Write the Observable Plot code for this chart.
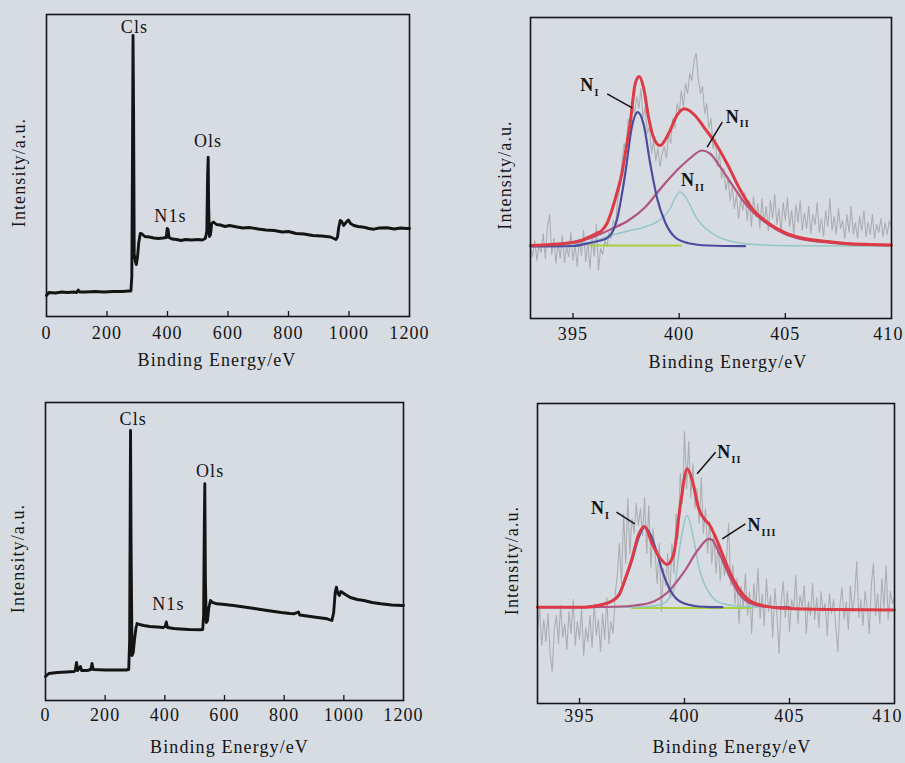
<!DOCTYPE html>
<html><head><meta charset="utf-8">
<script src="https://cdn.jsdelivr.net/npm/d3@7"></script>
<script src="https://cdn.jsdelivr.net/npm/@observablehq/plot@0.6"></script>
<style>
html,body{margin:0;padding:0;background:#d7dce3;}
#wrap{position:relative;width:905px;height:763px;overflow:hidden;background:#d7dce3;}
</style></head><body><div id="wrap"></div>
<script>
// ---------- DATA ----------
const surveyTicks = [0, 200, 400, 600, 800, 1000, 1200];
const surveyTickMarks = [200, 400, 600, 800, 1000];
const nTicks = [395, 400, 405];
const nLastTick = [410];
const nTickMarks = [395, 400, 405];
const xLabel = "Binding Energy/eV";
const yLabel = "Intensity/a.u.";

// survey spectrum, sample 1 (top)  [binding energy, intensity]
const survey1 = [[0,21],[8,24],[30,23.5],[50,24.5],[70,24],[90,24.5],[100,24],[105,26.5],[110,24.5],[130,24.5],[160,25],[190,24.5],[220,25],[250,25],[270,25.5],[279,25.5],[282,40],[284,150],[286,281],[288,200],[290,62],[294,55],[297,52],[301,60],[305,74],[310,83],[316,82.5],[325,80],[340,79.5],[355,78.5],[370,78],[385,78.5],[396,79],[399,88],[402,87],[405,79],[415,77.5],[430,77],[445,76],[460,77],[480,76.5],[500,77],[515,76.5],[525,78],[530,85],[532.5,140],[534.5,159.3],[536,110],[538.5,80],[542,82],[546,93],[552,94.5],[562,92],[575,91.5],[590,90],[605,91],[630,89.5],[650,88.5],[670,89],[700,87.5],[725,86.5],[752,86],[780,84.5],[800,85],[825,83],[851,82.5],[880,81],[910,80.5],[939,79.5],[950,78],[957,77],[962,79.5],[966,89],[971,96],[976,95],[982,91],[990,94],[998,96.5],[1005,93],[1016,91],[1030,90],[1049,89.3],[1065,88],[1082,87.3],[1100,88.5],[1126,88.7],[1150,87.5],[1170,88.5],[1192,88],[1200,88]];
const survey1Labels = [{e:291, v:289, t:"Cls"}, {e:534, v:175, t:"Ols"}, {e:410, v:100, t:"N1s"}];

// survey spectrum, sample 2 (bottom)
const survey2 = [[0,24],[11,27],[40,28],[70,28.5],[95,29],[100,30],[104,38],[108,30],[117,34],[121,30],[140,30],[152,31],[156,37],[160,31],[200,30.5],[240,30.5],[270,30.5],[279,31],[282,60],[284,200],[285,270],[287,150],[290,45],[294,48],[298,60],[303,72],[307,77],[315,76],[329,75],[350,74],[374,73.5],[395,73],[401,74],[405,78.5],[409,73],[430,72],[452,71.5],[480,71],[519,70.7],[527,71],[530,85],[532.5,180],[534,216.7],[536,120],[539,78],[543,80],[547,92],[553,100],[560,98],[575,96.7],[600,96],[630,95],[654,94],[700,92],[743,90],[790,88],[820,87],[832,86.7],[848,88.5],[852,85.5],[900,83.5],[944,81.7],[960,80],[966,88],[971,108],[975,113.3],[980,107],[985,105],[990,109],[994,108.3],[1005,106],[1022,103],[1045,101],[1067,100],[1095,98],[1124,96.7],[1160,95.5],[1196,95],[1200,95]];
const survey2Labels = [{e:294, v:281, t:"Cls"}, {e:552, v:229, t:"Ols"}, {e:412, v:96, t:"N1s"}];

// N1s high resolution, sample 1 (top right)
const n1Raw = [[393.0,70],[393.1,62],[393.2,78],[393.3,58],[393.4,74],[393.5,66],[393.6,85],[393.7,60],[393.8,92],[393.9,104],[394.0,64],[394.1,80],[394.2,55],[394.3,76],[394.4,60],[394.5,83],[394.6,56],[394.7,72],[394.8,62],[394.9,86],[395.0,58],[395.1,74],[395.2,52],[395.3,80],[395.4,63],[395.5,88],[395.6,57],[395.7,75],[395.8,50],[395.9,82],[396.0,62],[396.1,94],[396.2,48],[396.3,70],[396.4,64],[396.5,78],[396.6,72],[396.7,86],[396.8,80],[396.9,98],[397.0,92],[397.1,118],[397.2,130],[397.3,155],[397.4,175],[397.5,168],[397.6,200],[397.7,188],[397.8,215],[397.9,205],[398.0,222],[398.1,210],[398.2,230],[398.3,200],[398.4,212],[398.5,185],[398.6,192],[398.7,165],[398.8,178],[398.9,158],[399.0,170],[399.1,152],[399.2,165],[399.3,172],[399.4,160],[399.5,185],[399.6,175],[399.7,200],[399.8,190],[399.9,215],[400.0,205],[400.1,228],[400.2,212],[400.3,235],[400.4,225],[400.5,245],[400.6,238],[400.7,258],[400.8,265],[400.9,240],[401.0,225],[401.1,232],[401.2,205],[401.3,215],[401.4,190],[401.5,200],[401.6,170],[401.7,180],[401.8,152],[401.9,165],[402.0,140],[402.1,150],[402.2,128],[402.3,142],[402.4,118],[402.5,132],[402.6,110],[402.7,124],[402.8,100],[402.9,120],[403.0,108],[403.1,126],[403.2,98],[403.3,118],[403.4,92],[403.5,122],[403.6,102],[403.7,115],[403.8,90],[403.9,120],[404.0,96],[404.1,112],[404.2,88],[404.3,118],[404.4,100],[404.5,124],[404.6,94],[404.7,110],[404.8,86],[404.9,116],[405.0,98],[405.1,121],[405.2,92],[405.3,108],[405.4,84],[405.5,114],[405.6,96],[405.7,118],[405.8,88],[405.9,106],[406.0,90],[406.1,112],[406.2,85],[406.3,104],[406.4,94],[406.5,116],[406.6,86],[406.7,100],[406.8,82],[406.9,108],[407.0,92],[407.1,120],[407.2,88],[407.3,102],[407.4,84],[407.5,110],[407.6,90],[407.7,98],[407.8,80],[407.9,104],[408.0,86],[408.1,112],[408.2,84],[408.3,96],[408.4,80],[408.5,102],[408.6,88],[408.7,108],[408.8,82],[408.9,96],[409.0,84],[409.1,104],[409.2,80],[409.3,94],[409.4,86],[409.5,100],[409.6,82],[409.7,96],[409.8,84],[409.9,98],[410.0,90]];
const n1Envelope = [[393.0,73],[394.0,74],[394.8,75.5],[395.4,78],[395.73,81.3],[396.1,85],[396.36,88],[396.6,95],[396.83,108],[397.05,124],[397.3,144.7],[397.5,170],[397.69,194.7],[397.93,234.7],[398.12,242],[398.32,231.3],[398.56,201.3],[398.79,181.3],[399.1,173],[399.5,184.7],[399.89,203],[400.25,209.7],[400.75,203],[401.22,189.7],[401.63,178],[402.26,154.7],[402.89,128],[403.51,108],[404.14,96.3],[404.93,86.3],[405.71,80.7],[406.97,77],[408.07,74.7],[409.0,74],[410.0,73.5]];
const n1PeakI = [[393.0,72],[395.0,72.5],[395.95,76.3],[396.3,78],[396.67,81.3],[397.06,98],[397.46,144.7],[397.77,191.3],[398.05,206.3],[398.32,194.7],[398.64,154.7],[398.95,121.3],[399.34,96.3],[399.81,81.3],[400.44,75.3],[401.38,73],[403.1,72.3]];
const n1PeakIIbroad = [[393.0,72.5],[394.5,75],[395.73,79.7],[396.83,89.7],[397.61,98],[398.4,111.3],[399.18,131.3],[399.97,149.7],[400.5,160],[401.08,168],[401.47,164.7],[401.94,151.3],[402.57,131.3],[403.0,118],[403.5,106],[404.14,95],[404.93,85],[405.71,79.5],[406.97,76],[408.07,74],[410.0,73]];
const n1PeakIInarrow = [[393.0,72.5],[394.5,73.5],[395.3,75],[396.0,77],[396.6,82],[397.5,87],[398.3,91],[398.9,96],[399.34,103],[399.6,111],[399.8,120],[400.03,126.5],[400.25,123],[400.5,114],[400.75,103],[401.1,93],[401.5,86],[401.9,81],[402.5,77],[403.0,75],[404.0,73.5],[405.0,72.8],[410.0,72.3]];
const n1Baseline = [[395.8,73],[400.1,73]];
const n1Labels = [{e:395.68, v:233, sub:"I"}, {e:402.53, v:201.3, sub:"II"}, {e:400.42, v:138, sub:"II"}];
const n1Leaders = [{e1:396.61, v1:224.7, e2:397.79, v2:210.7}, {e1:402.03, v1:196.3, e2:401.32, v2:171.3}];

// N1s high resolution, sample 2 (bottom right)
const n2Raw = [[393.0,70],[393.1,96],[393.2,58],[393.3,84],[393.4,62],[393.5,90],[393.6,50],[393.7,32],[393.8,74],[393.9,88],[394.0,60],[394.1,98],[394.2,66],[394.3,80],[394.4,54],[394.5,92],[394.6,70],[394.7,104],[394.8,58],[394.9,82],[395.0,64],[395.1,94],[395.2,48],[395.3,76],[395.4,62],[395.5,88],[395.6,56],[395.7,100],[395.8,68],[395.9,84],[396.0,52],[396.1,90],[396.2,64],[396.3,106],[396.4,60],[396.5,82],[396.6,70],[396.7,110],[396.8,128],[396.9,160],[397.0,120],[397.1,190],[397.2,140],[397.3,205],[397.4,150],[397.5,185],[397.6,170],[397.7,200],[397.8,178],[397.9,195],[398.0,168],[398.1,206],[398.2,150],[398.3,198],[398.4,136],[398.5,175],[398.6,150],[398.7,120],[398.8,160],[398.9,92],[399.0,135],[399.1,118],[399.2,150],[399.3,105],[399.4,160],[399.5,130],[399.6,190],[399.7,165],[399.8,230],[399.9,200],[400.0,272],[400.1,215],[400.2,262],[400.3,205],[400.4,240],[400.5,195],[400.6,215],[400.7,180],[400.8,226],[400.9,170],[401.0,195],[401.1,150],[401.2,182],[401.3,140],[401.4,170],[401.5,130],[401.6,160],[401.7,123],[401.8,150],[401.9,128],[402.0,145],[402.1,180],[402.2,118],[402.3,138],[402.4,100],[402.5,125],[402.6,80],[402.7,118],[402.8,95],[402.9,130],[403.0,88],[403.1,112],[403.2,70],[403.3,120],[403.4,96],[403.5,135],[403.6,85],[403.7,110],[403.8,78],[403.9,125],[404.0,92],[404.1,108],[404.2,66],[404.3,115],[404.4,90],[404.5,50],[404.6,100],[404.7,122],[404.8,86],[404.9,112],[405.0,72],[405.1,104],[405.2,94],[405.3,128],[405.4,80],[405.5,108],[405.6,96],[405.7,118],[405.8,70],[405.9,102],[406.0,88],[406.1,120],[406.2,84],[406.3,106],[406.4,76],[406.5,112],[406.6,92],[406.7,100],[406.8,68],[406.9,110],[407.0,90],[407.1,104],[407.2,78],[407.3,52],[407.4,98],[407.5,116],[407.6,84],[407.7,102],[407.8,74],[407.9,118],[408.0,92],[408.1,108],[408.2,142],[408.3,86],[408.4,104],[408.5,78],[408.6,112],[408.7,96],[408.8,70],[408.9,120],[409.0,140],[409.1,88],[409.2,110],[409.3,80],[409.4,125],[409.5,96],[409.6,138],[409.7,84],[409.8,112],[409.9,100],[410.0,106]];
const n2Envelope = [[393.0,96.3],[395.29,96.3],[396.0,98.5],[396.5,102],[396.87,108],[397.2,126],[397.5,145],[397.8,168],[398.1,177],[398.46,159.7],[398.86,144.7],[399.18,139],[399.49,149.7],[399.81,199.7],[400.13,234.7],[400.37,223],[400.68,194.7],[401.0,183],[401.16,179.7],[401.48,166.3],[401.8,149.7],[402.19,129.7],[402.59,114.7],[403.22,101.3],[404.17,96.3],[405.0,95],[405.7,94.5],[407.0,94],[410.0,93.5]];
const n2PeakI = [[393.0,96.3],[395.0,96.3],[395.5,97],[396.0,98.5],[396.5,102],[396.9,110],[397.2,125],[397.5,143],[397.8,165],[398.1,176.3],[398.4,168],[398.7,150],[399.0,129],[399.3,114],[399.6,105],[400.0,100],[400.5,97.5],[401.0,96.7],[401.8,96.3]];
const n2PeakII = [[396.5,96.3],[398.0,96.8],[398.5,97.5],[399.0,100],[399.2,103.6],[399.5,114],[399.8,160],[400.13,188],[400.4,168],[400.7,135],[401.16,111],[401.5,103],[402.0,99],[402.5,97.5],[403.0,96.8],[404.5,96.3]];
const n2PeakIII = [[395.0,96.3],[397.0,97],[397.61,98],[398.4,101],[399.2,111.3],[399.97,131.3],[400.68,154.7],[401.16,164.7],[401.32,163.5],[401.63,151.3],[402.19,125],[402.59,110],[403.22,99.5],[404.0,96.5],[405.0,96.3]];
const n2Baseline = [[397.5,95.5],[403.2,95.5]];
const n2Labels = [{e:395.88, v:195, sub:"I"}, {e:401.9, v:251, sub:"II"}, {e:403.33, v:178, sub:"III"}];
const n2Leaders = [{e1:396.76, v1:191.3, e2:397.63, v2:179.7}, {e1:401.48, v1:251.3, e2:400.6, v2:229.7}, {e1:402.9, v1:179.7, e2:401.8, v2:164.7}];

// ---------- DRAWING ----------
const wrap = document.getElementById("wrap");
const ink = "#141414";
const toPts = arr => arr.map(([e, v]) => ({e, v}));

function panel(o) {
  const fh = o.height - o.mT - o.mB;
  const extra = o.lastTick ? [
    Plot.text(o.lastTick, {x: d => d, text: d => String(d), frameAnchor: "bottom", textAnchor: "end", lineAnchor: "top", dx: o.lastTickDx, dy: o.tickPadding, fontSize: 18})
  ] : [];
  const p = Plot.plot({
    width: o.width, height: o.height,
    marginLeft: o.mL, marginRight: o.mR, marginTop: o.mT, marginBottom: o.mB,
    x: {domain: o.xDomain},
    y: {domain: o.yDomain, axis: null},
    style: {background: "transparent", fontFamily: "'Liberation Serif','DejaVu Serif',serif", color: ink, letterSpacing: "1.1px", overflow: "visible"},
    marks: [
      ...o.marks,
      Plot.ruleX(o.tickMarks, {x: d => d, insetTop: fh - 5, stroke: ink, strokeWidth: 1.3}),
      Plot.axisX({ticks: o.tickLabels, tickSize: 0, tickPadding: o.tickPadding, fontSize: 18, label: null, tickFormat: d => String(d)}),
      ...extra,
      Plot.text([xLabel], {text: d => d, frameAnchor: "bottom", textAnchor: "middle", dx: o.xLabelDx, dy: o.xLabelDy, fontSize: 18, lineAnchor: "middle"}),
      Plot.text([yLabel], {text: d => d, frameAnchor: "left", textAnchor: "middle", rotate: -90, dx: o.yLabelDx, dy: 7, fontSize: 18, lineAnchor: "middle"}),
      Plot.frame({stroke: ink, strokeWidth: 1.6})
    ]
  });
  p.style.position = "absolute";
  p.style.left = o.left + "px";
  p.style.top = o.top + "px";
  wrap.appendChild(p);
}

function surveyMarks(data, labels) {
  return [
    Plot.line(toPts(data), {x: "e", y: "v", stroke: ink, strokeWidth: 2.9, strokeLinejoin: "round"}),
    Plot.text(labels, {x: "e", y: "v", text: "t", fontSize: 18, fill: ink})
  ];
}

const C = {raw: "#a3a4a8", red: "#dd3a45", blue: "#4b4c9e", mag: "#b0557f", cyan: "#94c6c8", green: "#a9cf3d"};

function nMarks(raw, curves, baseline, labels, leaders) {
  return [
    Plot.line(toPts(raw), {x: "e", y: "v", stroke: C.raw, strokeWidth: 1.1, strokeOpacity: 0.85}),
    Plot.line(toPts(baseline), {x: "e", y: "v", stroke: C.green, strokeWidth: 2}),
    ...curves.map(c => Plot.line(toPts(c.data), {x: "e", y: "v", stroke: c.color, strokeWidth: c.w, curve: "monotone-x"})),
    Plot.link(leaders, {x1: "e1", y1: "v1", x2: "e2", y2: "v2", stroke: ink, strokeWidth: 1.5}),
    Plot.text(labels, {x: "e", y: "v", text: () => "N", fontSize: 18, fontWeight: "bold", fill: ink}),
    Plot.text(labels, {x: "e", y: "v", text: "sub", fontSize: 10, fontWeight: "bold", dx: 7, dy: 7, textAnchor: "start", fill: ink})
  ];
}

panel({left: 0, top: 0, width: 450, height: 380, mL: 46, mR: 41, mT: 14, mB: 64,
  xDomain: [0, 1200], yDomain: [0, 302], tickLabels: surveyTicks, tickMarks: surveyTickMarks,
  tickPadding: 10, xLabelDx: -11, xLabelDy: 44, yLabelDx: -27,
  marks: surveyMarks(survey1, survey1Labels)});

panel({left: 450, top: 0, width: 455, height: 380, mL: 80, mR: 14, mT: 17, mB: 62,
  xDomain: [393, 410], yDomain: [0, 301], tickLabels: nTicks, tickMarks: nTickMarks, lastTick: nLastTick, lastTickDx: 12,
  tickPadding: 9, xLabelDx: 17, xLabelDy: 44, yLabelDx: -25,
  marks: nMarks(n1Raw, [
    {data: n1PeakIInarrow, color: C.cyan, w: 1.5},
    {data: n1PeakIIbroad, color: C.mag, w: 2.2},
    {data: n1PeakI, color: C.blue, w: 2.2},
    {data: n1Envelope, color: C.red, w: 3}
  ], n1Baseline, n1Labels, n1Leaders)});

panel({left: 0, top: 380, width: 450, height: 383, mL: 45, mR: 47, mT: 22, mB: 63,
  xDomain: [0, 1200], yDomain: [0, 298], tickLabels: surveyTicks, tickMarks: surveyTickMarks,
  tickPadding: 8, xLabelDx: 5, xLabelDy: 47, yLabelDx: -27,
  marks: surveyMarks(survey2, survey2Labels)});

panel({left: 450, top: 380, width: 455, height: 383, mL: 87, mR: 11, mT: 23, mB: 60,
  xDomain: [393, 410], yDomain: [0, 300], tickLabels: nTicks, tickMarks: nTickMarks, lastTick: nLastTick, lastTickDx: 8,
  tickPadding: 6, xLabelDx: 16, xLabelDy: 44, yLabelDx: -25,
  marks: nMarks(n2Raw, [
    {data: n2PeakII, color: C.cyan, w: 1.5},
    {data: n2PeakIII, color: C.mag, w: 2.2},
    {data: n2PeakI, color: C.blue, w: 2.2},
    {data: n2Envelope, color: C.red, w: 3}
  ], n2Baseline, n2Labels, n2Leaders)});
</script></body></html>
